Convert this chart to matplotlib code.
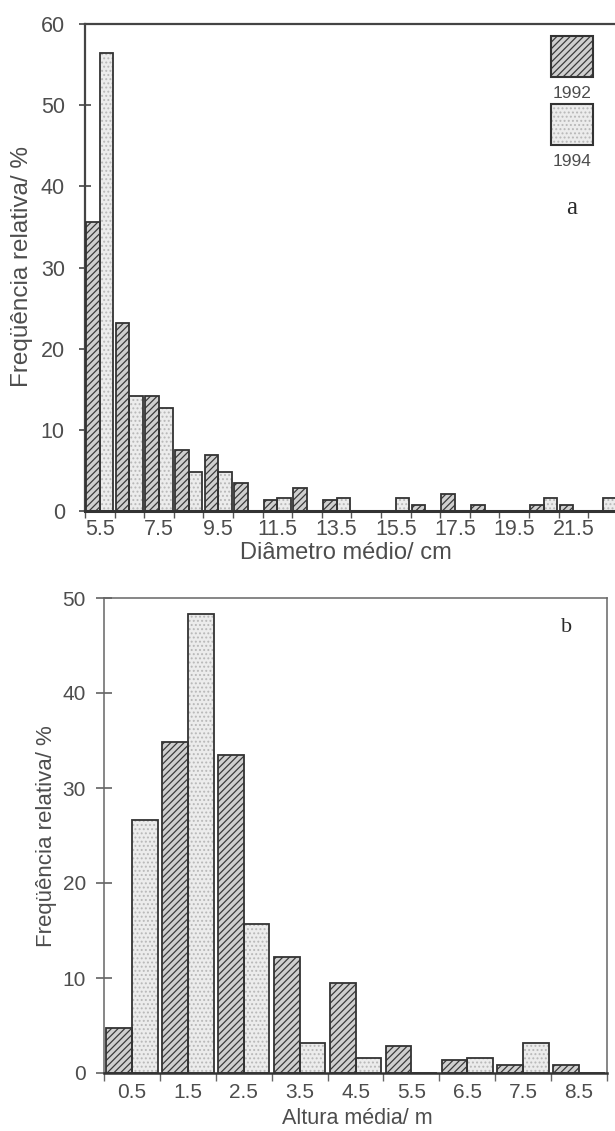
import numpy as np
import matplotlib
matplotlib.use("Agg")
import matplotlib.pyplot as plt
from matplotlib.patches import Rectangle

# class centres and relative frequencies (%)
diam_classes = [5.5, 6.5, 7.5, 8.5, 9.5, 10.5, 11.5, 12.5, 13.5, 14.5,
                15.5, 16.5, 17.5, 18.5, 19.5, 20.5, 21.5, 22.5]
diam_1992 = [35.6, 23.2, 14.2, 7.5, 6.9, 3.4, 1.4, 2.8, 1.4, 0,
             0, 0.7, 2.1, 0.8, 0, 0.8, 0.8, 0]
diam_1994 = [56.4, 14.2, 12.7, 4.8, 4.8, 0, 1.6, 0, 1.6, 0,
             1.6, 0, 0, 0, 0, 1.6, 0, 1.6]
diam_ticklabels = ["5.5", "7.5", "9.5", "11.5", "13.5", "15.5", "17.5", "19.5", "21.5"]

height_classes = [0.5, 1.5, 2.5, 3.5, 4.5, 5.5, 6.5, 7.5, 8.5]
height_1992 = [4.7, 34.8, 33.5, 12.2, 9.5, 2.8, 1.4, 0.8, 0.8]
height_1994 = [26.6, 48.3, 15.7, 3.2, 1.6, 0, 1.6, 3.2, 0]
height_ticklabels = ["0.5", "1.5", "2.5", "3.5", "4.5", "5.5", "6.5", "7.5", "8.5"]

years = ["1992", "1994"]

W, H = 615, 1131
TXT = "#4d4d4d"
EDGE = "#333333"
plt.rcParams["font.family"] = ["Liberation Sans", "DejaVu Sans"]
plt.rcParams["hatch.linewidth"] = 0.9

fig = plt.figure(figsize=(W / 100, H / 100), dpi=100)


def px(x0, y0, w, h):
    # pixel box (left, top, width, height) -> figure fraction
    return [x0 / W, 1 - (y0 + h) / H, w / W, h / H]


def hatched_bars(ax, x, vals, width, face, hcol, hatch):
    ax.bar(x, vals, width=width, align="edge", color=face, hatch=hatch,
           edgecolor=hcol, linewidth=0, zorder=2)
    ax.bar(x, vals, width=width, align="edge", fill=False,
           edgecolor=EDGE, linewidth=1.3, zorder=3)


def draw_pair(ax, classes, v92, v94):
    lo = np.array(classes) - 0.5
    hatched_bars(ax, lo + 0.04, v92, 0.46, "#cfcfcf", "#3a3a3a", "/////")
    hatched_bars(ax, lo + 0.5, v94, 0.46, "#ececec", "#b8b8b8", "....")


# ---- panel a: diameter
ax1 = fig.add_axes(px(85, 24, 19 * 29.6, 487))
draw_pair(ax1, diam_classes, diam_1992, diam_1994)
ax1.set_xlim(5, 24)
ax1.set_ylim(0, 60)
ax1.set_yticks(range(0, 61, 10))
ax1.set_xticks(np.arange(5, 25, 1))
ax1.set_xticklabels([])
ax1.set_xticks(np.arange(5.5, 22, 2), minor=True)
ax1.set_xticklabels(diam_ticklabels, minor=True)
ax1.tick_params(axis="x", which="major", direction="out", length=5, width=1, color="#555")
ax1.tick_params(axis="x", which="minor", length=0, pad=6, labelsize=15.5, labelcolor=TXT)
ax1.tick_params(axis="y", direction="inout", length=9, width=1.2, color="#444",
                pad=10, labelsize=15.5, labelcolor=TXT)
ax1.spines["right"].set_visible(False)
ax1.spines["bottom"].set_linewidth(2.2)
ax1.spines["bottom"].set_color(EDGE)
for s in ["left", "top"]:
    ax1.spines[s].set_linewidth(1.6)
    ax1.spines[s].set_color("#444")
fig.text(22 / W, 1 - 267 / H, "Freqüência relativa/ %", rotation=90, ha="center",
         va="center", fontsize=17.5, color=TXT)
fig.text(346 / W, 1 - 553 / H, "Diâmetro médio/ cm", ha="center", va="center",
         fontsize=17, color=TXT)

# legend boxes drawn in pixel space
leg = [(36, "/////", "#cfcfcf", "#3a3a3a"), (104, "....", "#ececec", "#b8b8b8")]
for (top, hatch, face, hcol), year in zip(leg, years):
    fig.add_artist(Rectangle((551 / W, 1 - (top + 41) / H), 42 / W, 41 / H,
                             transform=fig.transFigure, facecolor=face,
                             hatch=hatch, edgecolor=hcol, linewidth=0))
    fig.add_artist(Rectangle((551 / W, 1 - (top + 41) / H), 42 / W, 41 / H,
                             transform=fig.transFigure, fill=False,
                             edgecolor=EDGE, linewidth=1.5))
    fig.text(572 / W, 1 - (top + 57) / H, year, ha="center", va="center",
             fontsize=12.5, color=TXT)
fig.text(572 / W, 1 - 208 / H, "a", ha="center", va="center", fontsize=18,
         family=["Liberation Serif", "DejaVu Serif"], color="#2a2a2a")

# ---- panel b: height
ax2 = fig.add_axes(px(104, 598, 503, 475))
draw_pair(ax2, height_classes, height_1992, height_1994)
ax2.set_xlim(0, 9)
ax2.set_ylim(0, 50)
ax2.set_yticks(range(0, 51, 10))
ax2.set_xticks(np.arange(0, 10, 1))
ax2.set_xticklabels([])
ax2.set_xticks(height_classes, minor=True)
ax2.set_xticklabels(height_ticklabels, minor=True)
ax2.tick_params(axis="x", which="major", direction="out", length=6, width=1, color="#666")
ax2.tick_params(axis="x", which="minor", length=0, pad=7.5, labelsize=15, labelcolor=TXT)
ax2.tick_params(axis="y", direction="inout", length=12, width=1.1, color="#555",
                pad=7, labelsize=15, labelcolor=TXT)
for s in ["left", "top", "right"]:
    ax2.spines[s].set_linewidth(1.1)
    ax2.spines[s].set_color("#666")
ax2.spines["bottom"].set_linewidth(1.8)
ax2.spines["bottom"].set_color(EDGE)
fig.text(47 / W, 1 - 836 / H, "Freqüência relativa/ %", rotation=90, ha="center",
         va="center", fontsize=16, color=TXT)
fig.text(357 / W, 1 - 1118 / H, "Altura média/ m", ha="center", va="center",
         fontsize=15.5, color=TXT)
fig.text(567 / W, 1 - 628 / H, "b", ha="center", va="center", fontsize=16,
         family=["Liberation Serif", "DejaVu Serif"], color="#2a2a2a")

fig.savefig("out.png", dpi=100, facecolor="white")
